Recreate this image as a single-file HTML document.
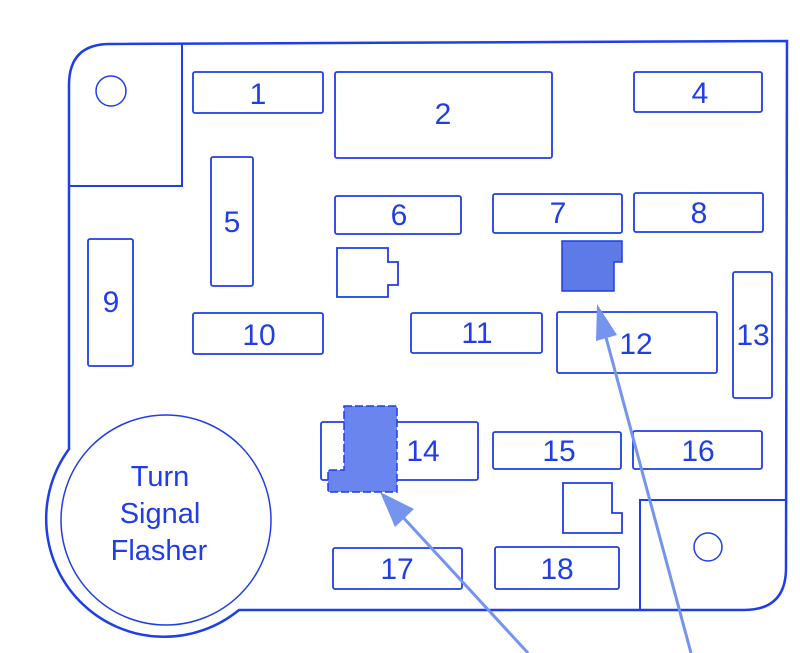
<!DOCTYPE html>
<html><head><style>body{margin:0;background:#fff}svg{display:block}text{font-family:"Liberation Sans",sans-serif;fill:#1f3ee6;font-size:30px;text-anchor:middle}</style></head><body>
<svg width="800" height="653" viewBox="0 0 800 653" xmlns="http://www.w3.org/2000/svg">
<g fill="none" stroke="#1f3ee6" stroke-width="2">
<path d="M110,44 L787,41 L786,568 Q786,610 744,610 L239,610 A118,118 0 0 1 69,449 L69,85 Q69,44 110,44 Z" stroke-width="2.5"/>
<circle cx="166" cy="520" r="105" stroke-width="1.5"/>
<path d="M182,44 L182,186 L69,186"/>
<circle cx="111" cy="91" r="15" stroke-width="1.5"/>
<path d="M786,500 L640,500 Q640,500 640,610"/>
<circle cx="708" cy="547" r="14" stroke-width="1.5"/>
<g stroke-width="1.8">
<rect x="193" y="72" width="130" height="41" rx="2"/>
<rect x="335" y="72" width="217" height="86" rx="2"/>
<rect x="634" y="72" width="128" height="40" rx="2"/>
<rect x="211" y="157" width="42" height="129" rx="2"/>
<rect x="335" y="196" width="126" height="38" rx="2"/>
<rect x="493" y="194" width="129" height="39" rx="2"/>
<rect x="634" y="193" width="129" height="39" rx="2"/>
<rect x="88" y="239" width="45" height="127" rx="2"/>
<rect x="193" y="313" width="130" height="41" rx="2"/>
<rect x="411" y="313" width="131" height="40" rx="2"/>
<rect x="557" y="312" width="160" height="61" rx="2"/>
<rect x="733" y="272" width="39" height="126" rx="2"/>
<rect x="321" y="422" width="157" height="58" rx="2"/>
<rect x="493" y="432" width="128" height="37" rx="2"/>
<rect x="633" y="431" width="129" height="38" rx="2"/>
<rect x="333" y="548" width="129" height="41" rx="2"/>
<rect x="495" y="547" width="124" height="42" rx="2"/>
<path d="M337,248 L388,248 L388,262 L398,262 L398,285 L388,285 L388,297 L337,297 Z"/>
<path d="M563,483 L612,483 L612,513 L622,513 L622,533 L563,533 Z"/>
</g>
</g>
<path d="M562,241 L622,241 L622,262 L614,262 L614,291 L562,291 Z" fill="#5d7ae6" stroke="#1f3ee6" stroke-width="1.5"/>
<path d="M344,406 L397,406 L397,492 L328,492 L328,470 L344,470 Z" fill="#6a86ee" stroke="#1f3ee6" stroke-width="1.5" stroke-dasharray="8,3"/>
<g stroke="#7594f0" stroke-width="3" fill="#7594f0">
<line x1="528" y1="653" x2="400" y2="514"/>
<polygon points="380,492 414,509 395,527" stroke="none"/>
<line x1="691" y1="653" x2="604" y2="330"/>
<polygon points="597,304 617,335 596,341" stroke="none"/>
</g>
<text x="258" y="104">1</text>
<text x="443" y="124">2</text>
<text x="700" y="103">4</text>
<text x="232" y="232">5</text>
<text x="399" y="225">6</text>
<text x="558" y="223">7</text>
<text x="699" y="223">8</text>
<text x="111" y="312">9</text>
<text x="259" y="345">10</text>
<text x="477" y="343">11</text>
<text x="636" y="354">12</text>
<text x="753" y="345">13</text>
<text x="423" y="461">14</text>
<text x="559" y="461">15</text>
<text x="698" y="461">16</text>
<text x="397" y="579">17</text>
<text x="557" y="579">18</text>
<text x="160" y="486" style="font-size:29px">Turn</text>
<text x="160" y="523" style="font-size:29px">Signal</text>
<text x="159" y="560" style="font-size:29px">Flasher</text>
</svg>
</body></html>
